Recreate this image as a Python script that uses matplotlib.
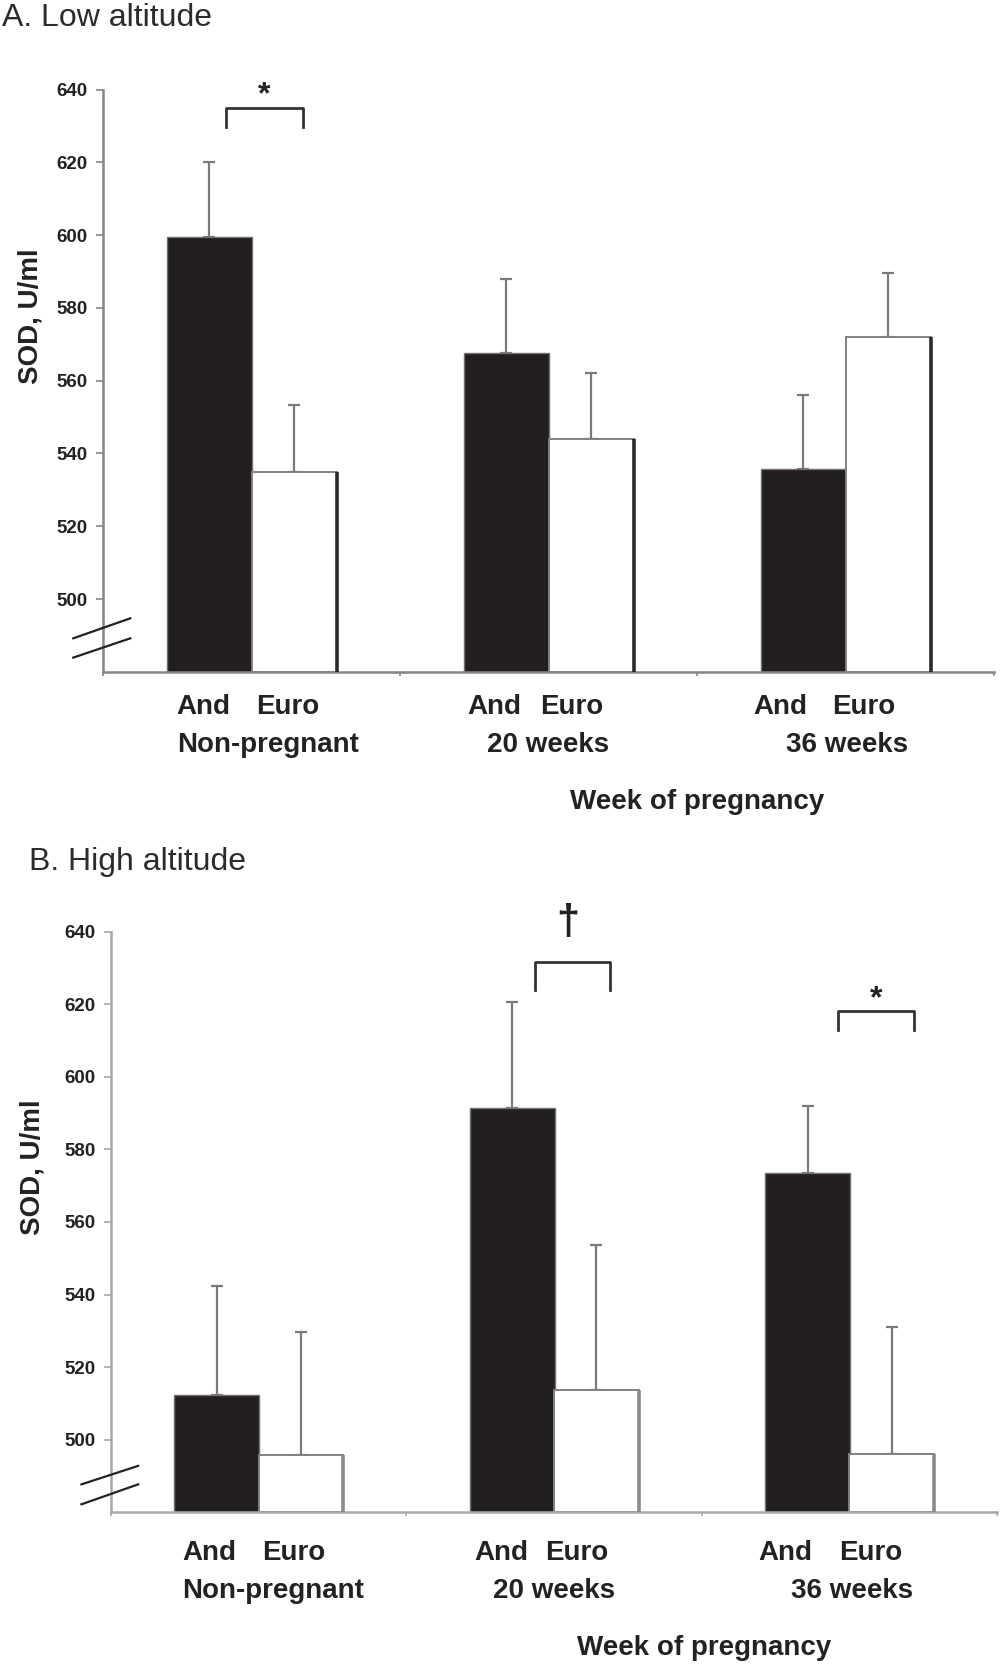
import matplotlib
matplotlib.use("Agg")
import matplotlib.pyplot as plt
import matplotlib.transforms as mtransforms
import numpy as np

plt.rcParams['font.family'] = ['Liberation Sans', 'DejaVu Sans']

# ---------------- data ----------------
groups = ["Non-pregnant", "20 weeks", "36 weeks"]
series_labels = ["And", "Euro"]
yticks = [500, 520, 540, 560, 580, 600, 620, 640]

low_andean = [599.5, 567.5, 535.8]
low_andean_err = [20.5, 20.4, 20.3]
low_euro = [534.9, 544.0, 571.9]
low_euro_err = [18.3, 18.2, 17.8]

high_andean = [512.3, 591.4, 573.5]
high_andean_err = [30.1, 29.3, 18.6]
high_euro = [495.8, 513.7, 496.1]
high_euro_err = [33.9, 40.0, 35.1]

# ---------------- style ----------------
W, H = 1000, 1666
DARK = "#231f20"
TXT = "#222222"
YMIN, YMAX = 480, 640
BW = 0.287
OFF_A, OFF_E = 0.3585, 0.6435

fig = plt.figure(figsize=(W / 100, H / 100), dpi=100)


def fy(px):
    return 1 - px / H


def panel(ax, andean, andean_err, euro, euro_err, right_edge_color, axc,
          and_lab_x, euro_lab_x, grp_lab_x, row1_px, row2_px, week_px, week_x,
          ylabel_xy, brk):
    x = np.arange(len(groups))
    xa = x + OFF_A
    xe = x + OFF_E
    ha = np.array(andean) - YMIN
    he = np.array(euro) - YMIN
    ax.bar(xa, ha, BW, bottom=YMIN, color=DARK, edgecolor="#707070", linewidth=1.0, zorder=2)
    ax.bar(xe, he, BW, bottom=YMIN, color="white", edgecolor="#808080", linewidth=1.4, zorder=2)
    # shadow on right side of white bars
    ax.vlines(xe + BW / 2, YMIN, euro, color=right_edge_color, linewidth=2.6, zorder=3)
    # upper error bars only
    ax.errorbar(xa, andean, yerr=[np.zeros(3), andean_err], fmt="none", ecolor="#7a7a7a",
                elinewidth=1.6, capsize=4, capthick=1.6, zorder=1)
    ax.errorbar(xe, euro, yerr=[np.zeros(3), euro_err], fmt="none", ecolor="#7a7a7a",
                elinewidth=1.6, capsize=4, capthick=1.6, zorder=1)

    ax.set_xlim(0, 3)
    ax.set_ylim(YMIN, YMAX)
    ax.set_yticks(yticks)
    ax.set_yticklabels([str(v) for v in yticks], fontsize=13.5, fontweight="bold", color=TXT)
    ax.set_xticks([0, 1, 2, 3])
    ax.set_xticklabels([])
    for s in ["top", "right"]:
        ax.spines[s].set_visible(False)
    for s in ["left", "bottom"]:
        ax.spines[s].set_color(axc)
        ax.spines[s].set_linewidth(1.8)
    ax.tick_params(axis="y", direction="out", length=5, width=1.2, color=axc, pad=6)
    ax.tick_params(axis="x", direction="out", length=3, width=1.2, color=axc)

    # axis break marks
    for (y0, y1) in brk:
        ax.plot([-0.10, 0.092], [y0, y1], color="#222222", lw=1.6, clip_on=False, zorder=5)

    # category labels
    tr = mtransforms.blended_transform_factory(ax.transData, fig.transFigure)
    for i in range(3):
        ax.text(i + and_lab_x[i], fy(row1_px), series_labels[0], transform=tr,
                ha="center", va="center", fontsize=20, fontweight="bold", color=TXT)
        ax.text(i + euro_lab_x[i], fy(row1_px), series_labels[1], transform=tr,
                ha="center", va="center", fontsize=20, fontweight="bold", color=TXT)
        ax.text(i + grp_lab_x[i], fy(row2_px), groups[i], transform=tr,
                ha="center", va="center", fontsize=20, fontweight="bold", color=TXT)
    ax.text(week_x, fy(week_px), "Week of pregnancy", transform=tr, ha="center",
            va="center", fontsize=20, fontweight="bold", color=TXT)
    fig.text(ylabel_xy[0] / W, fy(ylabel_xy[1]), "SOD, U/ml", rotation=90,
             ha="center", va="center", fontsize=20, fontweight="bold", color=TXT)


def bracket(ax, x0, x1, ylow, yhigh, sym, sx, sy, size, weight):
    ax.plot([x0, x0, x1, x1], [ylow, yhigh, yhigh, ylow], color="#333333",
            lw=2.0, clip_on=False, zorder=5)
    ax.text(sx, sy, sym, ha="center", va="center", fontsize=size,
            fontweight=weight, color=TXT, clip_on=False)


# ---------------- panel A ----------------
ax1 = fig.add_axes([103 / W, fy(671.8), (994 - 103) / W, (671.8 - 89.5) / H])
panel(ax1, low_andean, low_andean_err, low_euro, low_euro_err, "#2a2a2a", "#858585",
      [0.338, 0.318, 0.279], [0.621, 0.579, 0.562], [0.556, 0.499, 0.505],
      707, 745, 802, 2.0, (30, 316),
      [(489.2, 494.7), (483.9, 489.2)])
bracket(ax1, 0.414, 0.673, 629.7, 634.9, "*", 0.541, 638.5, 23, "bold")
fig.text(2 / W, fy(18), "A. Low altitude", ha="left", va="center",
         fontsize=23, color="#2b2b2b")

# ---------------- panel B ----------------
ax2 = fig.add_axes([111 / W, fy(1512.3), (997 - 111) / W, (1512.3 - 931.7) / H])
panel(ax2, high_andean, high_andean_err, high_euro, high_euro_err, "#8a8a8a", "#a8a8a8",
      [0.332, 0.322, 0.284], [0.62, 0.578, 0.572], [0.55, 0.50, 0.51],
      1553, 1591, 1648, 2.01, (32, 1167),
      [(487.7, 492.8), (482.2, 487.7)])
bracket(ax2, 1.434, 1.69, 623.9, 631.6, "\u2020", 1.547, 642.5, 30, "bold")
bracket(ax2, 2.462, 2.72, 612.9, 618.1, "*", 2.592, 621.5, 23, "bold")
fig.text(29 / W, fy(862), "B. High altitude", ha="left", va="center",
         fontsize=23, color="#2b2b2b")

fig.savefig("out.png", dpi=100)
